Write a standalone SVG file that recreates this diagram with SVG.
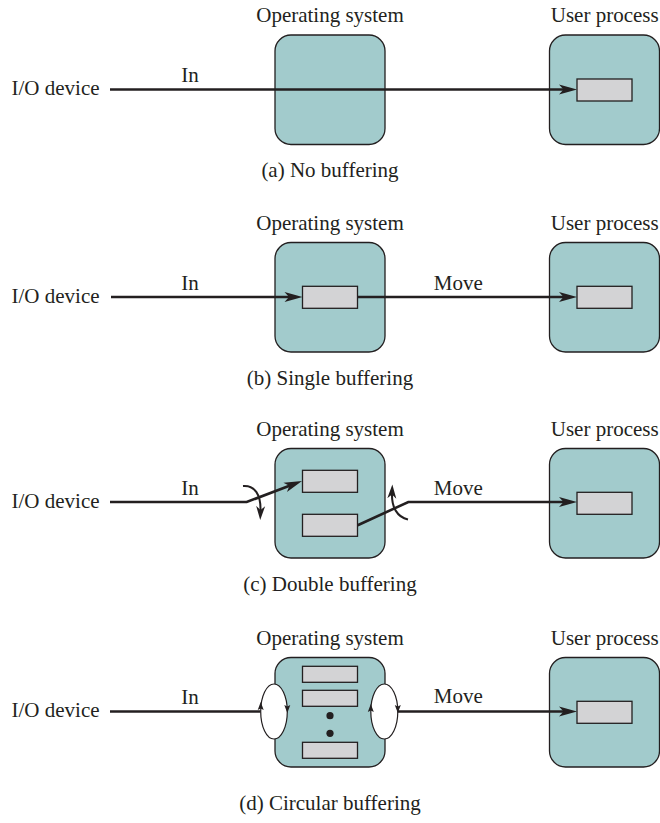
<svg xmlns="http://www.w3.org/2000/svg" xmlns:xlink="http://www.w3.org/1999/xlink" width="660" height="823" viewBox="0 0 660 823">
<style>
text{font-family:"Liberation Serif","Times New Roman",serif;font-size:21px;fill:#231f20}
.m{text-anchor:middle}
.box{fill:#a2cbcc;stroke:#231f20;stroke-width:1.3}
.buf{fill:#d3d3d5;stroke:#231f20;stroke-width:1.3}
.ln{fill:none;stroke:#231f20;stroke-width:2.6}
.cv{fill:none;stroke:#231f20;stroke-width:2}
.el{fill:#fff;stroke:#231f20;stroke-width:1.2}
</style>
<defs>
<marker id="ah" markerUnits="userSpaceOnUse" markerWidth="20" markerHeight="12" viewBox="0 0 20 12" refX="7" refY="6" orient="auto"><path d="M1,1 L19,6 L1,11 L5.5,6 Z" fill="#231f20"/></marker>
<marker id="ahs" markerUnits="userSpaceOnUse" markerWidth="16" markerHeight="10" viewBox="0 0 16 10" refX="5" refY="5" orient="auto"><path d="M0,0.5 L14,5 L0,9.5 L4,5 Z" fill="#231f20"/></marker>
<path id="sa" d="M0,0 L3,8 L0,6.5 L-3,8 Z" fill="#231f20"/>
</defs>

<!-- Panel (a) -->
<g id="a-io"><text x="11.5" y="95">I/O device</text></g>
<g id="a-os"><text class="m" x="330" y="22">Operating system</text><rect class="box" x="275" y="35" width="110" height="109.5" rx="16"/></g>
<g id="a-up"><text class="m" x="604.7" y="22">User process</text><rect class="box" x="549.5" y="35" width="110" height="109.5" rx="16"/><rect class="buf" x="577" y="79" width="55" height="22"/></g>
<g id="a-conn"><path class="ln" d="M110,89.5 H565" marker-end="url(#ah)"/><text class="m" x="190" y="82">In</text></g>
<g id="a-cap"><text class="m" x="330" y="177">(a) No buffering</text></g>

<!-- Panel (b) -->
<g id="b-io"><text x="11.5" y="302.7">I/O device</text></g>
<g id="b-os"><text class="m" x="330" y="230">Operating system</text><rect class="box" x="275" y="242.5" width="110" height="109.5" rx="16"/><rect class="buf" x="302.5" y="286.3" width="55" height="22"/></g>
<g id="b-up"><text class="m" x="604.7" y="230">User process</text><rect class="box" x="549.5" y="242.5" width="110" height="109.5" rx="16"/><rect class="buf" x="577" y="286.3" width="55" height="22"/></g>
<g id="b-conn"><path class="ln" d="M111,297 H290.5" marker-end="url(#ah)"/><path class="ln" d="M357.5,297 H565" marker-end="url(#ah)"/><text class="m" x="190" y="289.5">In</text><text class="m" x="458.3" y="289.5">Move</text></g>
<g id="b-cap"><text class="m" x="330" y="384.5">(b) Single buffering</text></g>

<!-- Panel (c) -->
<g id="c-io"><text x="11.5" y="508">I/O device</text></g>
<g id="c-os"><text class="m" x="330" y="436">Operating system</text><rect class="box" x="275" y="448.5" width="110" height="109.5" rx="16"/><rect class="buf" x="302.5" y="470.3" width="55" height="22"/><rect class="buf" x="302.5" y="514.3" width="55" height="22"/></g>
<g id="c-up"><text class="m" x="604.7" y="435.5">User process</text><rect class="box" x="549.5" y="448.5" width="110" height="109.5" rx="16"/><rect class="buf" x="577" y="492.3" width="55" height="22"/></g>
<g id="c-conn">
<path class="ln" d="M110,502 H246.7 L290.8,485.3" marker-end="url(#ah)"/>
<path class="ln" d="M357.7,525.3 L408.3,502 H565" marker-end="url(#ah)"/>
<path class="cv" d="M243,486 C255,485 261,495 260.5,511" marker-end="url(#ahs)"/>
<path class="cv" d="M408,519.5 C397,517 391.5,507 392,493.5" marker-end="url(#ahs)"/>
<text class="m" x="190" y="495">In</text><text class="m" x="458.3" y="495">Move</text></g>
<g id="c-cap"><text class="m" x="330" y="591">(c) Double buffering</text></g>

<!-- Panel (d) -->
<g id="d-io"><text x="11.5" y="717.3">I/O device</text></g>
<g id="d-os"><text class="m" x="330" y="645">Operating system</text><rect class="box" x="275" y="657.5" width="110" height="109.5" rx="16"/>
<rect class="buf" x="302.5" y="666.3" width="55" height="16"/><rect class="buf" x="302.5" y="690.3" width="55" height="16"/><rect class="buf" x="302.5" y="742.3" width="55" height="16"/>
<circle cx="330" cy="715.7" r="3.6" fill="#231f20"/><circle cx="330" cy="733.3" r="3.6" fill="#231f20"/></g>
<g id="d-up"><text class="m" x="604.7" y="645">User process</text><rect class="box" x="549.5" y="657.5" width="110" height="109.5" rx="16"/><rect class="buf" x="577" y="701.3" width="55" height="22"/></g>
<g id="d-conn">
<path class="ln" d="M110,711.5 H260.7"/>
<path class="ln" d="M397.7,711.5 H565" marker-end="url(#ah)"/>
<ellipse class="el" cx="274" cy="711.5" rx="13.3" ry="27.5"/>
<ellipse class="el" cx="384.3" cy="711.5" rx="13.5" ry="27.5"/>
<use xlink:href="#sa" transform="translate(260.7,702)"/>
<use xlink:href="#sa" transform="translate(287.3,713) rotate(180)"/>
<use xlink:href="#sa" transform="translate(370.8,704)"/>
<use xlink:href="#sa" transform="translate(397.8,713) rotate(180)"/>
<text class="m" x="190" y="703.5">In</text><text class="m" x="458.3" y="703.3">Move</text></g>
<g id="d-cap"><text class="m" x="330" y="810">(d) Circular buffering</text></g>
</svg>
